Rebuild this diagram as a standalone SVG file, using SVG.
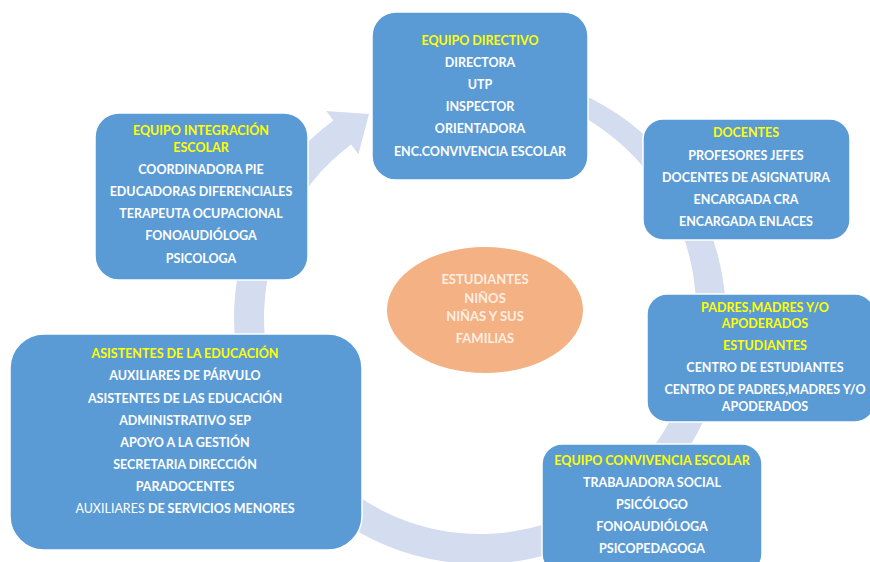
<svg xmlns="http://www.w3.org/2000/svg" width="870" height="562" viewBox="0 0 870 562">
<style>
.box{fill:#5b9bd5;stroke:#ffffff;stroke-width:1.5}
.t{font-family:"Lato","Liberation Sans",sans-serif;font-weight:700;font-size:12.5px;fill:#ffffff;text-anchor:middle}
.h{fill:#ffff00}
.e{font-family:"Lato","Liberation Sans",sans-serif;font-weight:700;font-size:13px;fill:#fdeee2;text-anchor:middle}
.ring{fill:#d3ddef}
</style>
<rect width="870" height="562" fill="#ffffff"/>
<g id="connectors">
<path class="ring" d="M480,72 A246,246 0 1 1 333.3,120.5 L326.2,110.9 L369,114 L358.4,154.2 L351.2,144.6 A216,216 0 1 0 696,318 A223,223 0 0 0 480,88 Z"/>
</g>
<g id="centro">
<ellipse cx="485" cy="310" rx="98" ry="63" fill="#f4b183"/>
<text class="e" x="485" y="284">ESTUDIANTES</text>
<text class="e" x="485" y="303">NIÑOS</text>
<text class="e" x="485" y="321">NIÑAS Y SUS</text>
<text class="e" x="485" y="343">FAMILIAS</text>
</g>
<g id="directivo">
<rect class="box" x="372" y="12" width="216" height="168" rx="24"/>
<text class="t h" x="480" y="45">EQUIPO DIRECTIVO</text>
<text class="t" x="480" y="67">DIRECTORA</text>
<text class="t" x="480" y="89">UTP</text>
<text class="t" x="480" y="111">INSPECTOR</text>
<text class="t" x="480" y="133">ORIENTADORA</text>
<text class="t" x="480" y="156">ENC.CONVIVENCIA ESCOLAR</text>
</g>
<g id="docentes">
<rect class="box" x="643" y="119" width="207" height="121" rx="20"/>
<text class="t h" x="746" y="137">DOCENTES</text>
<text class="t" x="746" y="160">PROFESORES JEFES</text>
<text class="t" x="746" y="182">DOCENTES DE ASIGNATURA</text>
<text class="t" x="746" y="204">ENCARGADA CRA</text>
<text class="t" x="746" y="226">ENCARGADA ENLACES</text>
</g>
<g id="padres">
<rect class="box" x="647" y="294" width="228" height="128" rx="20"/>
<text class="t h" x="765" y="312">PADRES,MADRES Y/O</text>
<text class="t h" x="765" y="328">APODERADOS</text>
<text class="t h" x="765" y="350">ESTUDIANTES</text>
<text class="t" x="765" y="372">CENTRO DE ESTUDIANTES</text>
<text class="t" x="765" y="394">CENTRO DE PADRES,MADRES Y/O</text>
<text class="t" x="765" y="411">APODERADOS</text>
</g>
<g id="convivencia">
<rect class="box" x="542" y="444" width="220" height="130" rx="20"/>
<text class="t h" x="652" y="465">EQUIPO CONVIVENCIA ESCOLAR</text>
<text class="t" x="652" y="487">TRABAJADORA SOCIAL</text>
<text class="t" x="652" y="509">PSICÓLOGO</text>
<text class="t" x="652" y="531">FONOAUDIÓLOGA</text>
<text class="t" x="652" y="553">PSICOPEDAGOGA</text>
</g>
<g id="asistentes">
<rect class="box" x="10" y="334" width="352" height="216" rx="34"/>
<text class="t h" x="185" y="358">ASISTENTES DE LA EDUCACIÓN</text>
<text class="t" x="185" y="380">AUXILIARES DE PÁRVULO</text>
<text class="t" x="185" y="403">ASISTENTES DE LAS EDUCACIÓN</text>
<text class="t" x="185" y="425">ADMINISTRATIVO SEP</text>
<text class="t" x="185" y="447">APOYO A LA GESTIÓN</text>
<text class="t" x="185" y="469">SECRETARIA DIRECCIÓN</text>
<text class="t" x="185" y="491">PARADOCENTES</text>
<text class="t" x="185" y="513"><tspan font-weight="400">AUXILIARES </tspan>DE SERVICIOS MENORES</text>
</g>
<g id="integracion">
<rect class="box" x="95" y="113" width="213" height="167" rx="24"/>
<text class="t h" x="201" y="135">EQUIPO INTEGRACIÓN</text>
<text class="t h" x="201" y="152">ESCOLAR</text>
<text class="t" x="201" y="174">COORDINADORA PIE</text>
<text class="t" x="201" y="196">EDUCADORAS DIFERENCIALES</text>
<text class="t" x="201" y="218">TERAPEUTA OCUPACIONAL</text>
<text class="t" x="201" y="240">FONOAUDIÓLOGA</text>
<text class="t" x="201" y="263">PSICOLOGA</text>
</g>
</svg>
